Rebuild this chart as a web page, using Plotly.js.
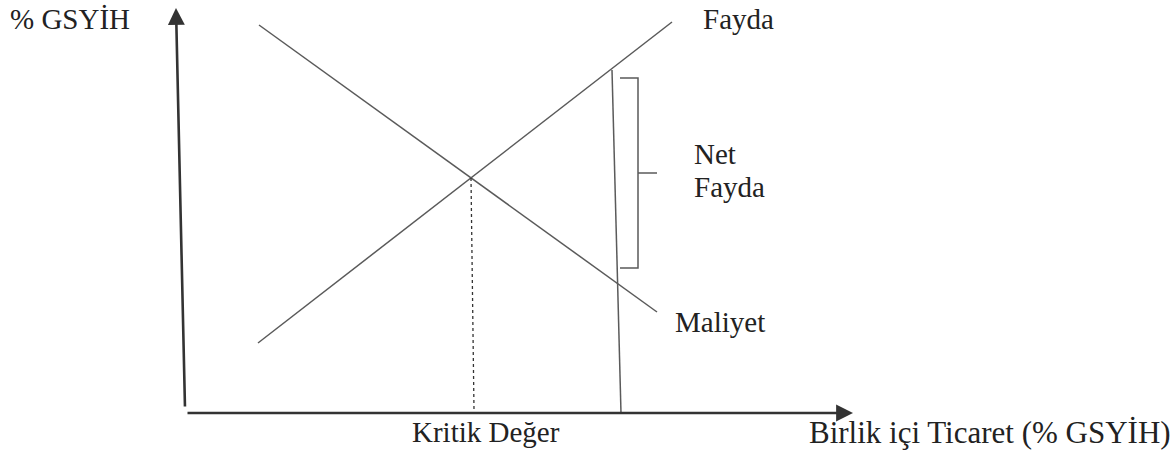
<!DOCTYPE html>
<html>
<head>
<meta charset="utf-8">
<script src="https://cdn.plot.ly/plotly-3.0.1.min.js"></script>
<style>html,body{margin:0;padding:0;background:#fff;}#chart{width:1175px;height:454px;}</style>
</head>
<body>
<div id="chart"></div>
<script>
// Diagram values (units measured from the axis origin)
const benefitX = [73, 487];
const benefitY = [70, 391];
const costX = [74, 472];
const costY = [388, 101];
const criticalX = [286, 289];
const criticalY = [235, 3];
const tradeX = [427, 436];
const tradeY = [343, 0];
const bracketX = [435, 453, 453, 435];
const bracketY = [335, 335, 145, 145];
const bracketTickX = [453, 472];
const bracketTickY = [240, 240];
const yAxisX = [0, -9];
const yAxisY = [5, 405];
const xAxisX = [1, 668];
const xAxisY = [0, 0];

const labelYAxis = '% GSYİH';
const labelXAxis = 'Birlik içi Ticaret (% GSYİH)';
const labelBenefit = 'Fayda';
const labelCost = 'Maliyet';
const labelNet1 = 'Net';
const labelNet2 = 'Fayda';
const labelCritical = 'Kritik Değer';

const lineColor = '#5a5a5a';
const fontFamily = '"Liberation Serif", "Times New Roman", serif';

const traces = [
  {x: benefitX, y: benefitY, mode: 'lines', line: {color: lineColor, width: 1.5}},
  {x: costX, y: costY, mode: 'lines', line: {color: lineColor, width: 1.5}},
  {x: criticalX, y: criticalY, mode: 'lines', line: {color: '#333', width: 1.3, dash: '3px,3px'}},
  {x: tradeX, y: tradeY, mode: 'lines', line: {color: lineColor, width: 1.5}},
  {x: bracketX, y: bracketY, mode: 'lines', line: {color: lineColor, width: 1.5}},
  {x: bracketTickX, y: bracketTickY, mode: 'lines', line: {color: lineColor, width: 1.5}}
];

function txt(text, x, y, xanchor, size) {
  return {x: x, y: y, xref: 'x', yref: 'y', text: text, showarrow: false,
    font: {family: fontFamily, size: size || 29, color: '#222'}, xanchor: xanchor || 'center', yanchor: 'middle'};
}
function arrow(xs, ys) {
  return {x: xs[1], y: ys[1], ax: xs[0], ay: ys[0], xref: 'x', yref: 'y', axref: 'x', ayref: 'y',
    text: '', showarrow: true, arrowhead: 2, arrowsize: 1.3, arrowwidth: 2.6, arrowcolor: '#333'};
}

const layout = {
  width: 1175, height: 454,
  margin: {l: 0, r: 0, t: 0, b: 0},
  paper_bgcolor: '#fff', plot_bgcolor: '#fff',
  showlegend: false,
  font: {family: fontFamily, size: 29, color: '#222'},
  xaxis: {range: [-185, 990], visible: false, fixedrange: true},
  yaxis: {range: [-41, 413], visible: false, fixedrange: true},
  annotations: [
    arrow(yAxisX, yAxisY),
    arrow(xAxisX, xAxisY),
    txt(labelYAxis, -115, 394),
    txt(labelBenefit, 553, 394),
    txt(labelNet1, 507, 259, 'left'),
    txt(labelNet2, 507, 226, 'left'),
    txt(labelCost, 535, 91),
    txt(labelCritical, 301, -19),
    txt(labelXAxis, 805, -19, 'center', 31)
  ]
};

Plotly.newPlot('chart', traces, layout, {staticPlot: true, displayModeBar: false});
</script>
</body>
</html>
